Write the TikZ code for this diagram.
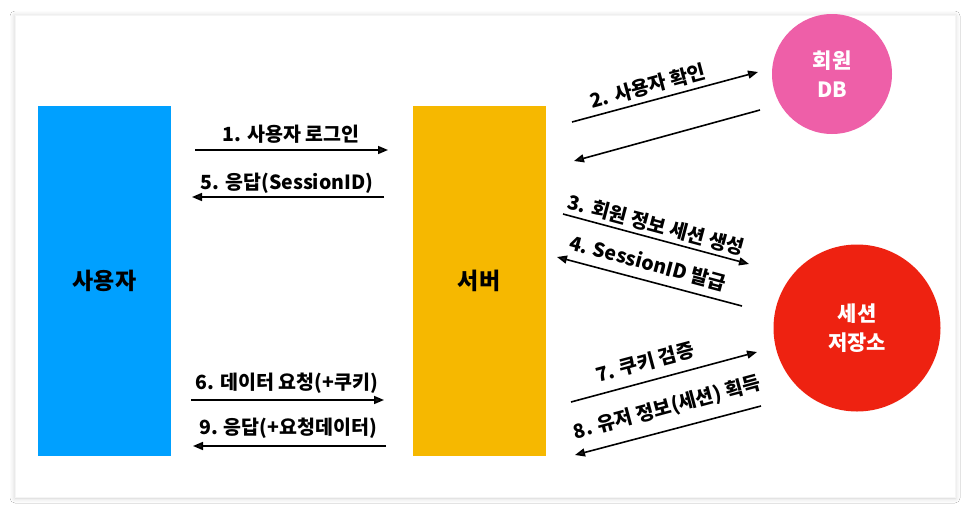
\documentclass[tikz,border=0pt]{standalone}
\usepackage{fontspec}
\setmainfont{Noto Sans CJK KR}
\usetikzlibrary{arrows.meta,shadows.blur}
\definecolor{userblue}{HTML}{00A0FF}
\definecolor{serveryellow}{HTML}{F6B800}
\definecolor{dbpink}{HTML}{EE5FA8}
\definecolor{sessred}{HTML}{EE2211}
\tikzset{
  flow/.style={line width=1.6pt,-{Triangle[length=10pt,width=8pt]}},
  lbl/.style={font=\fontsize{19.5}{22}\selectfont\bfseries,inner sep=0pt},
  boxnode/.style={minimum width=133pt,minimum height=350pt,inner sep=0pt,font=\fontsize{23}{26}\selectfont\bfseries},
  circnode/.style={circle,inner sep=0pt,text=white,align=center,font=\fontsize{21}{29}\selectfont\bfseries}
}
\begin{document}
\begin{tikzpicture}[x=1pt,y=-1pt]
\useasboundingbox (0,0) rectangle (970,512);
\fill[white] (0,0) rectangle (970,512);
\fill[white,draw=black!4,blur shadow={shadow xshift=0pt,shadow yshift=-1pt,shadow blur radius=5pt,shadow opacity=20}] (15,15) rectangle (955,497);
% main nodes
\node[boxnode,fill=userblue] (user) at (104.5,281) {사용자};
\node[boxnode,fill=serveryellow] (server) at (479,281) {서버};
\node[circnode,fill=dbpink,minimum size=120pt] (db) at (832,74) {회원\\DB};
\node[circnode,fill=sessred,minimum size=167pt] (store) at (857,328) {세션\\저장소};
% arrow endpoints
\coordinate (a1s) at (195,150); \coordinate (a1e) at (388,150);
\coordinate (a5s) at (384,197); \coordinate (a5e) at (192,197);
\coordinate (a6s) at (191,400); \coordinate (a6e) at (384,400);
\coordinate (a9s) at (386,446); \coordinate (a9e) at (193,446);
\coordinate (a2s) at (572,122); \coordinate (a2e) at (758,72);
\coordinate (a2bs) at (760,110); \coordinate (a2be) at (574,161);
\coordinate (a3s) at (563,214); \coordinate (a3e) at (749,264);
\coordinate (a4s) at (742,306); \coordinate (a4e) at (557,257);
\coordinate (a7s) at (571,402); \coordinate (a7e) at (757,352);
\coordinate (a8s) at (761,406); \coordinate (a8e) at (575,455);
\draw[flow] (a1s) -- (a1e);
\draw[flow] (a5s) -- (a5e);
\draw[flow] (a6s) -- (a6e);
\draw[flow] (a9s) -- (a9e);
\draw[flow] (a2s) -- (a2e);
\draw[flow] (a2bs) -- (a2be);
\draw[flow] (a3s) -- (a3e);
\draw[flow] (a4s) -- (a4e);
\draw[flow] (a7s) -- (a7e);
\draw[flow] (a8s) -- (a8e);
% labels
\node[lbl] (l1) at (291,134) {1. 사용자 로그인};
\node[lbl] (l5) at (287,183) {5. 응답(SessionID)};
\node[lbl] (l6) at (287,383) {6. 데이터 요청(+쿠키)};
\node[lbl] (l9) at (288,428) {9. 응답(+요청데이터)};
\node[lbl,rotate=15] (l2) at (648,86) {2. 사용자 확인};
\node[lbl,rotate=-15] (l3) at (656,225) {3. 회원 정보 세션 생성};
\node[lbl,rotate=-15] (l4) at (648,263) {4. SessionID 발급};
\node[lbl,rotate=15] (l7) at (645,362) {7. 쿠키 검증};
\node[lbl,rotate=15] (l8) at (667,408) {8. 유저 정보(세션) 획득};
\end{tikzpicture}
\end{document}
